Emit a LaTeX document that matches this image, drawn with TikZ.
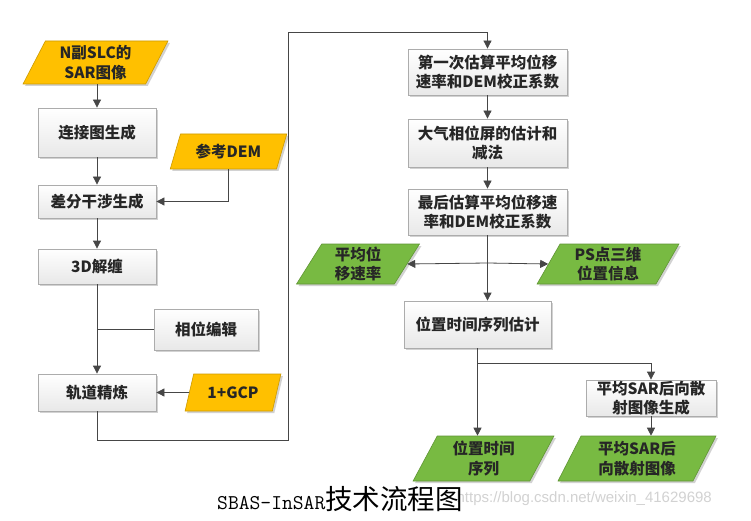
\documentclass[tikz,border=0pt]{standalone}
\usepackage{fontspec}
\setmainfont{Liberation Serif}
\newfontfamily\cjk{Noto Sans CJK SC}
\newfontfamily\wmfont{Liberation Sans}
\usetikzlibrary{shapes.geometric,arrows.meta,shadows}
\definecolor{orng}{RGB}{255,192,0}
\definecolor{grn}{RGB}{120,186,66}
\definecolor{lin}{RGB}{70,70,70}
\tikzset{
  base/.style={font=\cjk\bfseries\fontsize{15.5}{19.5}\selectfont, align=center, inner sep=0pt, text=black!85},
  box/.style={base, rectangle, draw=gray!65, line width=0.8pt, top color=white, bottom color=gray!18,
    drop shadow={shadow xshift=2pt, shadow yshift=-2pt, fill=gray!70, opacity=0.5}},
  para/.style={base, trapezium, trapezium left angle=65, trapezium right angle=115, trapezium stretches=true,
    line width=0.6pt, drop shadow={shadow xshift=2pt, shadow yshift=-2pt, fill=gray!70, opacity=0.5}},
  opara/.style={para, fill=orng, draw=orng!80!black},
  gpara/.style={para, fill=grn, draw=grn!80!black},
  conn/.style={draw=lin, line width=0.8pt},
  arr/.style={conn, -{Triangle[width=8pt,length=8pt]}}
}
\begin{document}
\begin{tikzpicture}[x=1pt,y=-1pt]
\fill[white] (0,0) rectangle (751,521);
\useasboundingbox (0,0) rectangle (751,521);
% left column
\node[opara, minimum width=145pt, minimum height=43pt] (n1) at (95.5,62.5) {N副SLC的\\SAR图像};
\node[box, minimum width=118pt, minimum height=49pt] (b1) at (97,132.5) {连接图生成};
\node[opara, minimum width=117pt, minimum height=35pt] (dem) at (228.5,151.5) {参考DEM};
\node[box, minimum width=118pt, minimum height=33pt] (b2) at (97,201.5) {差分干涉生成};
\node[box, minimum width=118pt, minimum height=35pt] (b3) at (97,266.5) {3D解缠};
\node[box, minimum width=104pt, minimum height=41pt] (b4) at (206,329.5) {相位编辑};
\node[box, minimum width=118pt, minimum height=37pt] (b5) at (97,392.5) {轨道精炼};
\node[opara, minimum width=96pt, minimum height=37pt] (gcp) at (233,392.5) {1+GCP};
% right column
\node[box, minimum width=159pt, minimum height=46pt] (r1) at (487.5,72) {第一次估算平均位移\\速率和DEM校正系数};
\node[box, minimum width=159pt, minimum height=48pt] (r2) at (487.5,143) {大气相位屏的估计和\\减法};
\node[box, minimum width=159pt, minimum height=46pt] (r3) at (487.5,212) {最后估算平均位移速\\率和DEM校正系数};
\node[gpara, minimum width=124pt, minimum height=40pt] (g1) at (358,264) {平均位\\移速率};
\node[gpara, minimum width=142pt, minimum height=40pt] (g2) at (608,264) {PS点三维\\位置信息};
\node[box, minimum width=147pt, minimum height=47pt] (r4) at (477.5,324.5) {位置时间序列估计};
\node[box, minimum width=130pt, minimum height=36pt] (r5) at (651,398) {平均SAR后向散\\射图像生成};
\node[gpara, minimum width=141pt, minimum height=45pt] (g3) at (483.5,458.5) {位置时间\\序列};
\node[gpara, minimum width=158pt, minimum height=45pt] (g4) at (637,458.5) {平均SAR后\\向散射图像};
% connectors
\coordinate (c1) at (288,440);
\coordinate (c2) at (288,32);
\coordinate (j1) at (487.5,263);
\coordinate (j2) at (477.5,363);
\draw[arr] (b1.north |- n1.south) -- (b1.north);
\draw[arr] (b1.south) -- (b2.north);
\draw[arr] (dem.south) |- (b2.east);
\draw[arr] (b2.south) -- (b3.north);
\draw[arr] (b3.south) -- (b5.north);
\draw[conn] (b4.west) -- (b4.west -| b3.south);
\draw[arr] (gcp.west) -- (b5.east);
\draw[arr] (b5.south) |- (c1) -- (c2) -| (r1.north);
\draw[arr] (r1.south) -- (r2.north);
\draw[arr] (r2.south) -- (r3.north);
\draw[arr] (r3.south) -- (r3.south |- r4.north);
\draw[arr] (j1) -- (g1.east);
\draw[arr] (j1) -- (g2.west);
\draw[arr] (r4.south) -- (r4.south |- g3.north);
\draw[arr] (j2) -| (r5.north);
\draw[arr] (r5.south) -- (r5.south |- g4.north);
% caption and watermark
\node[anchor=east, text=gray!35, font=\wmfont\fontsize{15}{18}\selectfont, inner sep=0pt] (wm) at (712,499) {https://blog.csdn.net/weixin\_41629698};
\node[anchor=west, inner sep=0pt, text=black] (cap) at (217,499) {{\ttfamily\fontsize{21}{24}\selectfont SBAS-InSAR}{\cjk\fontsize{27.5}{30}\selectfont 技术流程图}};
\end{tikzpicture}
\end{document}
